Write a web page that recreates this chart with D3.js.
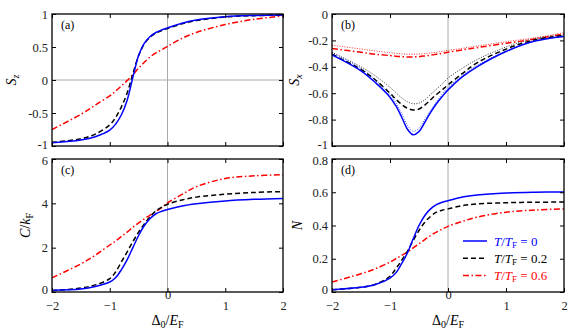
<!DOCTYPE html>
<html>
<head>
<meta charset="utf-8">
<script src="https://cdn.jsdelivr.net/npm/d3@7"></script>
<style>
  body { margin: 0; background: #fff; }
  svg text { font-family: "Liberation Serif", "DejaVu Serif", serif; }
</style>
</head>
<body>
<div id="chart"></div>
<script>

// sample points along Delta0/EF, shared by every curve
let xs = [-2, -1.5, -1.25, -1, -0.9, -0.8, -0.7, -0.6, -0.5, -0.4, -0.3, -0.2, -0.1, 0, 0.25, 0.5, 1, 1.5, 2];

// (a) S_z
let szT0   = [-0.95, -0.91, -0.86, -0.76, -0.67, -0.53, -0.31, 0.04, 0.37, 0.56, 0.66, 0.72, 0.76, 0.79, 0.86, 0.91, 0.96, 0.978, 0.985];
let szT02  = [-0.945, -0.89, -0.82, -0.68, -0.57, -0.41, -0.2, 0.09, 0.37, 0.55, 0.65, 0.71, 0.75, 0.78, 0.85, 0.9, 0.955, 0.975, 0.983];
let szT06  = [-0.75, -0.52, -0.38, -0.24, -0.17, -0.09, -0.01, 0.08, 0.18, 0.27, 0.35, 0.41, 0.46, 0.51, 0.63, 0.72, 0.84, 0.92, 0.97];

// (b) S_x, solid/dashed and the thin dotted companions
let sxT0    = [-0.31, -0.43, -0.52, -0.63, -0.695, -0.78, -0.872, -0.915, -0.89, -0.82, -0.745, -0.68, -0.625, -0.575, -0.475, -0.4, -0.284, -0.205, -0.17];
let sxT0d   = [-0.295, -0.41, -0.5, -0.61, -0.672, -0.752, -0.842, -0.888, -0.865, -0.797, -0.73, -0.665, -0.605, -0.555, -0.465, -0.39, -0.28, -0.205, -0.168];
let sxT02   = [-0.305, -0.42, -0.5, -0.6, -0.645, -0.685, -0.715, -0.727, -0.72, -0.69, -0.65, -0.61, -0.575, -0.537, -0.45, -0.37, -0.266, -0.195, -0.163];
let sxT02d  = [-0.29, -0.4, -0.47, -0.555, -0.595, -0.635, -0.665, -0.68, -0.675, -0.65, -0.61, -0.57, -0.53, -0.486, -0.41, -0.345, -0.25, -0.185, -0.158];
let sxT06   = [-0.262, -0.29, -0.305, -0.315, -0.32, -0.323, -0.325, -0.325, -0.323, -0.318, -0.312, -0.305, -0.298, -0.29, -0.272, -0.255, -0.222, -0.19, -0.15];
let sxT06d  = [-0.237, -0.265, -0.28, -0.293, -0.298, -0.302, -0.305, -0.305, -0.303, -0.3, -0.295, -0.29, -0.283, -0.276, -0.26, -0.243, -0.21, -0.18, -0.142];

// (c) C/kF
let cT0  = [0.08, 0.14, 0.25, 0.45, 0.64, 1.0, 1.45, 2.0, 2.55, 3.0, 3.32, 3.53, 3.64, 3.72, 3.88, 3.98, 4.11, 4.18, 4.22];
let cT02 = [0.06, 0.18, 0.32, 0.6, 0.9, 1.35, 1.8, 2.27, 2.7, 3.07, 3.4, 3.66, 3.83, 3.96, 4.15, 4.28, 4.41, 4.49, 4.53];
let cT06 = [0.64, 1.27, 1.66, 2.12, 2.3, 2.5, 2.7, 2.92, 3.12, 3.3, 3.47, 3.64, 3.8, 4.02, 4.4, 4.75, 5.12, 5.24, 5.29];

// (d) N
let nT0  = [0.014, 0.028, 0.045, 0.084, 0.115, 0.17, 0.235, 0.32, 0.4, 0.46, 0.5, 0.525, 0.54, 0.549, 0.571, 0.583, 0.595, 0.6, 0.602];
let nT02 = [0.014, 0.028, 0.047, 0.095, 0.14, 0.19, 0.245, 0.31, 0.37, 0.42, 0.455, 0.48, 0.492, 0.5, 0.52, 0.53, 0.537, 0.54, 0.541];
let nT06 = [0.06, 0.11, 0.14, 0.18, 0.2, 0.22, 0.24, 0.265, 0.29, 0.315, 0.34, 0.36, 0.378, 0.395, 0.425, 0.45, 0.48, 0.493, 0.5];

// tick values
let xTicks = [-2, -1, 0, 1, 2];
let szTicks = [-1, -0.5, 0, 0.5, 1];
let sxTicks = [-1, -0.8, -0.6, -0.4, -0.2, 0];
let cTicks = [0, 2, 4, 6];
let nTicks = [0, 0.2, 0.4, 0.6, 0.8];

let legendLabels = ["0", "0.2", "0.6"];

// line styles
let sBlue = { stroke: "#0000ff", width: 1.5, dash: null };
let sBlack = { stroke: "#000", width: 1.5, dash: "5,3" };
let sRed = { stroke: "#ff0000", width: 1.5, dash: "6,2.5,1.5,2.5" };
let sBlueDot = { stroke: "#3355ff", width: 1, dash: "1,1.5" };
let sBlackDot = { stroke: "#333", width: 1, dash: "1,1.5" };
let sRedDot = { stroke: "#ff3333", width: 1, dash: "1,1.5" };

let svg = d3.select("#chart")
  .append("svg")
    .attr("width", 577)
    .attr("height", 336);

function drawPanel(p) {
  let x = d3.scaleLinear().domain([-2, 2]).range([p.left, p.right]);
  let y = d3.scaleLinear().domain(p.yDomain).range([p.bottom, p.top]);
  let w = p.right - p.left, h = p.bottom - p.top;

  let g = svg.append("g");

  let clipId = "clip-" + p.name;
  g.append("clipPath").attr("id", clipId)
    .append("rect")
    .attr("x", p.left).attr("y", p.top)
    .attr("width", w).attr("height", h);

  // grey zero lines
  g.append("line")
    .attr("x1", x(0)).attr("x2", x(0))
    .attr("y1", p.top).attr("y2", p.bottom)
    .attr("stroke", "#aaa").attr("stroke-width", 1);
  if (p.yDomain[0] < 0 && p.yDomain[1] > 0) {
    g.append("line")
      .attr("x1", p.left).attr("x2", p.right)
      .attr("y1", y(0)).attr("y2", y(0))
      .attr("stroke", "#aaa").attr("stroke-width", 1);
  }

  let line = d3.line()
    .x((d, i) => x(xs[i]))
    .y(d => y(d))
    .curve(d3.curveCatmullRom.alpha(0.5));

  p.series.forEach(s => {
    g.append("path")
      .datum(s.values)
      .attr("clip-path", `url(#${clipId})`)
      .attr("fill", "none")
      .attr("stroke", s.style.stroke)
      .attr("stroke-width", s.style.width)
      .attr("stroke-dasharray", s.style.dash)
      .attr("d", line);
  });

  // axes with inward ticks on all sides
  let tickLen = 4;
  g.append("g")
    .attr("transform", `translate(0,${p.bottom})`)
    .call(d3.axisBottom(x).tickValues(xTicks).tickSize(-tickLen)
      .tickFormat(p.showX ? (d => d < 0 ? "\u2212" + Math.abs(d) : d) : ""))
    .call(a => a.select(".domain").remove())
    .call(a => a.selectAll(".tick text").attr("dy", "1em").attr("y", 5));
  g.append("g")
    .attr("transform", `translate(0,${p.top})`)
    .call(d3.axisTop(x).tickValues(xTicks).tickSize(-tickLen).tickFormat(""))
    .call(a => a.select(".domain").remove());
  g.append("g")
    .attr("transform", `translate(${p.left},0)`)
    .call(d3.axisLeft(y).tickValues(p.yTicks).tickSize(-tickLen).tickFormat(d => String(d)))
    .call(a => a.select(".domain").remove())
    .call(a => a.selectAll(".tick text").attr("x", -4));
  g.append("g")
    .attr("transform", `translate(${p.right},0)`)
    .call(d3.axisRight(y).tickValues(p.yTicks).tickSize(-tickLen).tickFormat(""))
    .call(a => a.select(".domain").remove());

  g.selectAll(".tick line").attr("stroke", "#000").attr("stroke-width", 1);
  g.selectAll(".tick text")
    .attr("fill", "#222")
    .attr("font-family", null)
    .style("font-size", "12.5px");

  // labels at the shared corners are crowded, nudge them apart
  if (!p.showX) {
    g.selectAll(".tick text").filter(d => d === p.yDomain[0]).attr("dy", "0.2em");
  } else {
    g.selectAll(".tick text").filter(d => d === p.yDomain[1] && p.yTicks.includes(d)).attr("dy", "0.4em");
    g.selectAll(".tick text").filter(d => d === p.yDomain[0] && p.yTicks.includes(d)).attr("dy", "0.15em");
  }

  // frame
  g.append("rect")
    .attr("x", p.left).attr("y", p.top)
    .attr("width", w).attr("height", h)
    .attr("fill", "none").attr("stroke", "#000").attr("stroke-width", 1.3);

  // panel letter
  g.append("text")
    .attr("x", p.left + 9).attr("y", p.top + 15)
    .style("font-size", "12px")
    .text(p.letter);

  // y label
  let yl = g.append("text")
    .attr("transform", `translate(${p.yLabelX},${(p.top + p.bottom) / 2}) rotate(-90)`)
    .attr("text-anchor", "middle")
    .style("font-size", "14px");
  p.yLabel.forEach(part => {
    let t = yl.append("tspan").text(part.t);
    if (part.i) t.style("font-style", "italic");
    if (part.sub) t.attr("baseline-shift", "-25%").style("font-size", "10px");
  });

  if (p.showX) {
    let xl = g.append("text")
      .attr("x", (p.left + p.right) / 2).attr("y", 325)
      .attr("text-anchor", "middle")
      .style("font-size", "14px");
    xl.append("tspan").text("\u0394");
    xl.append("tspan").text("0").attr("baseline-shift", "-25%").style("font-size", "10px");
    xl.append("tspan").text("/");
    xl.append("tspan").text("E").style("font-style", "italic");
    xl.append("tspan").text("F").attr("baseline-shift", "-25%").style("font-size", "10px");
  }
}

drawPanel({
  name: "a", letter: "(a)", left: 52, right: 283, top: 14, bottom: 146,
  yDomain: [-1, 1], yTicks: szTicks, showX: false, yLabelX: 16,
  yLabel: [{ t: "S", i: true }, { t: "z", i: true, sub: true }],
  series: [
    { values: szT06, style: sRed },
    { values: szT02, style: sBlack },
    { values: szT0, style: sBlue }
  ]
});

drawPanel({
  name: "b", letter: "(b)", left: 332, right: 564, top: 14, bottom: 146,
  yDomain: [-1, 0], yTicks: sxTicks, showX: false, yLabelX: 299,
  yLabel: [{ t: "S", i: true }, { t: "x", i: true, sub: true }],
  series: [
    { values: sxT06d, style: sRedDot },
    { values: sxT02d, style: sBlackDot },
    { values: sxT0d, style: sBlueDot },
    { values: sxT06, style: sRed },
    { values: sxT02, style: sBlack },
    { values: sxT0, style: sBlue }
  ]
});

drawPanel({
  name: "c", letter: "(c)", left: 52, right: 283, top: 159, bottom: 292,
  yDomain: [0, 6], yTicks: cTicks, showX: true, yLabelX: 30,
  yLabel: [{ t: "C", i: true }, { t: "/" }, { t: "k", i: true }, { t: "F", sub: true }],
  series: [
    { values: cT06, style: sRed },
    { values: cT02, style: sBlack },
    { values: cT0, style: sBlue }
  ]
});

drawPanel({
  name: "d", letter: "(d)", left: 332, right: 564, top: 159, bottom: 292,
  yDomain: [0, 0.8], yTicks: nTicks, showX: true, yLabelX: 302,
  yLabel: [{ t: "N", i: true }],
  series: [
    { values: nT06, style: sRed },
    { values: nT02, style: sBlack },
    { values: nT0, style: sBlue }
  ]
});

// legend in panel (d)
let legendStyles = [sBlue, sBlack, sRed];
let legend = svg.append("g");
legendLabels.forEach((lab, i) => {
  let yy = 241 + i * 17.3;
  let st = legendStyles[i];
  legend.append("line")
    .attr("x1", 463).attr("x2", 487)
    .attr("y1", yy).attr("y2", yy)
    .attr("stroke", st.stroke)
    .attr("stroke-width", 1.5)
    .attr("stroke-dasharray", st.dash);
  let t = legend.append("text")
    .attr("x", 494).attr("y", yy + 4.5)
    .attr("fill", st.stroke)
    .style("font-size", "13px");
  t.append("tspan").text("T").style("font-style", "italic");
  t.append("tspan").text("/");
  t.append("tspan").text("T").style("font-style", "italic");
  t.append("tspan").text("F").attr("baseline-shift", "-25%").style("font-size", "9px");
  t.append("tspan").text(" = " + lab);
});

</script>
</body>
</html>
